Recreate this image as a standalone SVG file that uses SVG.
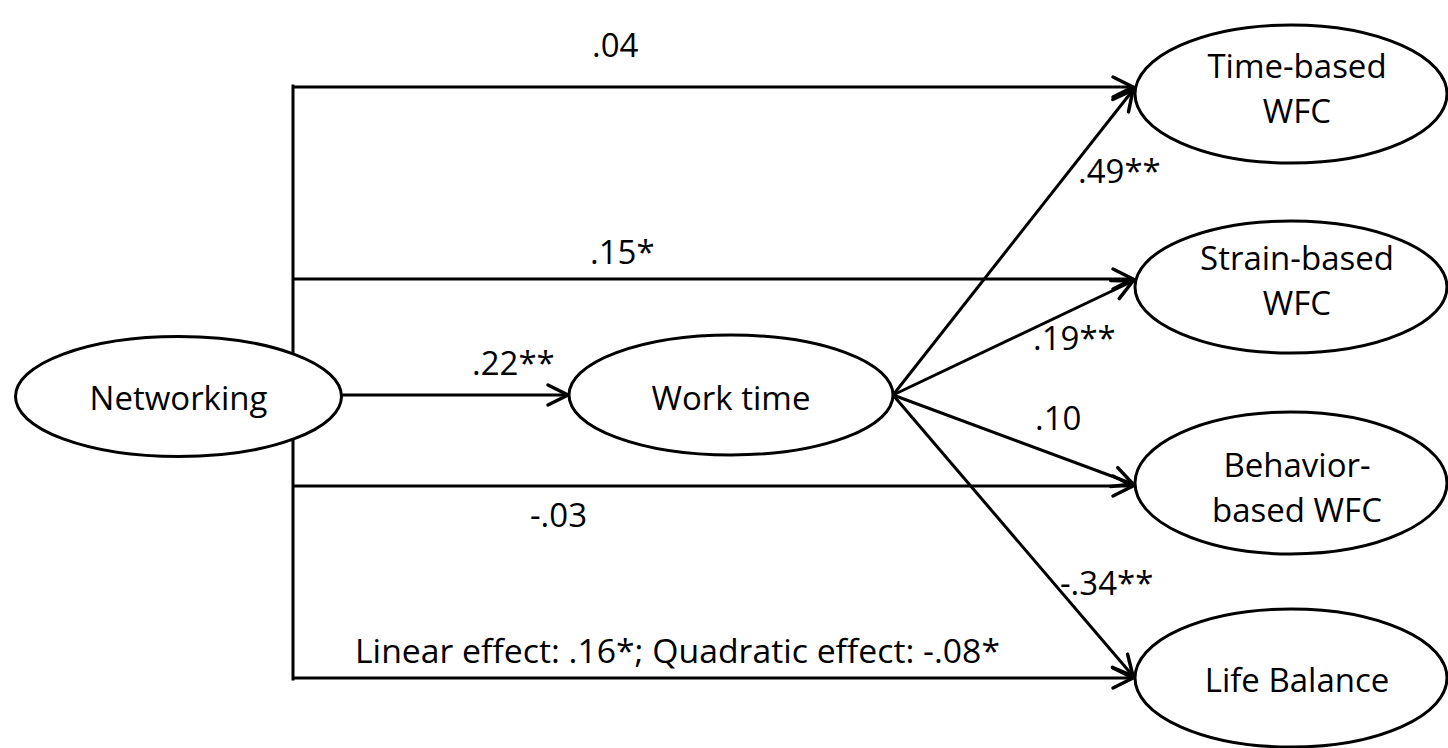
<svg xmlns="http://www.w3.org/2000/svg" width="1448" height="748" viewBox="0 0 1448 748">
  <style>
    .node ellipse { fill: #ffffff; stroke: #000000; stroke-width: 3; }
    .node text, .label { font-family: "Open Sans", "Noto Sans", sans-serif; font-size: 33px; fill: #000000; }
    .node text { text-anchor: middle; }
    .conn { stroke: #000000; stroke-width: 3; fill: none; }
    .arrow { marker-end: url(#arrowhead); }
  </style>
  <defs>
    <marker id="arrowhead" markerUnits="userSpaceOnUse" markerWidth="30" markerHeight="30" refX="0" refY="0" viewBox="-24 -15 30 30" orient="auto" overflow="visible">
      <path d="M-20,-10 L0,0 L-20,10" fill="none" stroke="#000000" stroke-width="3.5" stroke-linecap="round" stroke-linejoin="miter"/>
    </marker>
  </defs>
  <rect width="1448" height="748" fill="#ffffff"/>

  <g id="connectors">
    <path class="conn" d="M293,86 V679" stroke-linecap="square"/>
    <path class="conn arrow" d="M293,87 H1133"/>
    <path class="conn arrow" d="M293,279 H1133"/>
    <path class="conn arrow" d="M293,486 H1133"/>
    <path class="conn arrow" d="M293,678 H1133"/>
    <path class="conn arrow" d="M342,395 H568"/>
    <path class="conn arrow" d="M893,395 L1133,90"/>
    <path class="conn arrow" d="M893,395 L1133,281"/>
    <path class="conn arrow" d="M893,395 L1133,484"/>
    <path class="conn arrow" d="M893,395 L1133,676"/>
  </g>

  <g id="node-networking" class="node">
    <ellipse cx="178.5" cy="396.5" rx="163" ry="60"/>
    <text x="178.5" y="410">Networking</text>
  </g>
  <g id="node-worktime" class="node">
    <ellipse cx="731" cy="395" rx="162" ry="60"/>
    <text x="731" y="410">Work time</text>
  </g>
  <g id="node-time" class="node">
    <ellipse cx="1291" cy="94" rx="156" ry="69"/>
    <text x="1297" y="78">Time-based</text>
    <text x="1297" y="123">WFC</text>
  </g>
  <g id="node-strain" class="node">
    <ellipse cx="1291" cy="287" rx="156" ry="66"/>
    <text x="1297" y="270">Strain-based</text>
    <text x="1297" y="315">WFC</text>
  </g>
  <g id="node-behavior" class="node">
    <ellipse cx="1291" cy="483" rx="156" ry="71"/>
    <text x="1297" y="477">Behavior-</text>
    <text x="1297" y="522">based WFC</text>
  </g>
  <g id="node-life" class="node">
    <ellipse cx="1291" cy="678" rx="156" ry="69"/>
    <text x="1297" y="692">Life Balance</text>
  </g>

  <g id="labels">
    <text class="label" x="592" y="57">.04</text>
    <text class="label" x="590" y="264">.15*</text>
    <text class="label" x="472" y="375">.22**</text>
    <text class="label" x="1078" y="183">.49**</text>
    <text class="label" x="1033" y="350">.19**</text>
    <text class="label" x="1035" y="430">.10</text>
    <text class="label" x="1060" y="595">-.34**</text>
    <text class="label" x="530" y="527">-.03</text>
    <text class="label" x="355" y="663" textLength="645" lengthAdjust="spacingAndGlyphs">Linear effect: .16*; Quadratic effect: -.08*</text>
  </g>
</svg>
